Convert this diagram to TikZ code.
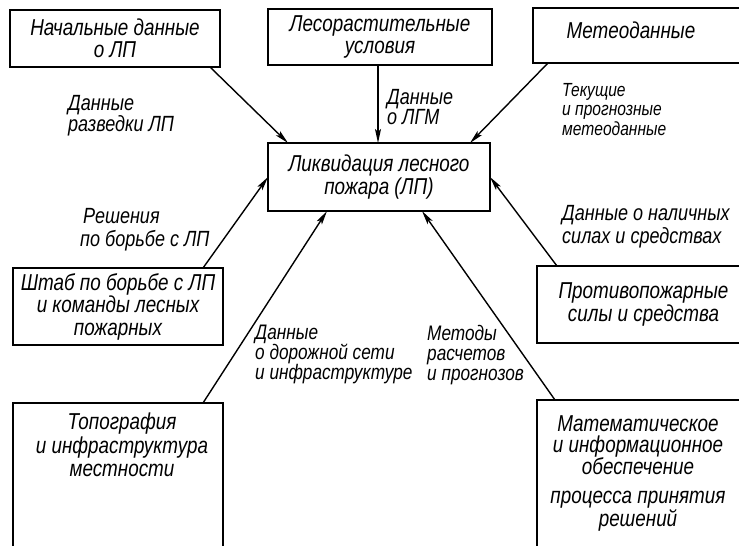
\documentclass[tikz,border=0pt]{standalone}
\usepackage{fontspec}
\newfontfamily\gostfont{Liberation Sans}[FakeStretch=0.82]
\usetikzlibrary{arrows.meta,positioning}

\tikzset{
  box/.style={draw, line width=1.5pt, inner sep=0pt, outer sep=0pt, align=center,
    font=\gostfont\itshape\fontsize{23}{22.5}\selectfont},
  boxtext/.style={inner sep=0pt, align=center, font=\gostfont\itshape\fontsize{23}{22.5}\selectfont},
  lbl/.style={inner sep=0pt, anchor=north west, align=left,
    font=\gostfont\itshape\fontsize{22}{18}\selectfont},
  flow/.style={line width=1.4pt, -{Stealth[length=14pt,width=6pt,inset=3pt]}}
}

\begin{document}
\begin{tikzpicture}[x=1pt,y=-1pt]
        \useasboundingbox (0,0) rectangle (739,546);
        % boxes
        \node[box, minimum width=210pt, minimum height=57pt] (init) at (115,38.5) {Начальные данные\\о ЛП};
        \node[box, minimum width=224pt, minimum height=56pt] (forest) at (380,37) {Лесорастительные\\условия};
        \node[box, minimum width=217pt, minimum height=55pt] (meteo) at (641.5,35.5) {};
        \node[boxtext, anchor=north] (meteotxt) at (631,22) {Метеоданные};
        \node[box, minimum width=222pt, minimum height=68pt] (fire) at (379,177) {Ликвидация лесного\\пожара (ЛП)};
        \node[box, minimum width=210pt, minimum height=77pt] (staff) at (118,306.5) {Штаб по борьбе с ЛП\\и команды лесных\\пожарных};
        \node[box, minimum width=213pt, minimum height=77pt] (forces) at (643.5,304.5) {Противопожарные\\силы и средства};
        \node[box, minimum width=210pt, minimum height=157pt] (topo) at (118,481.5) {};
        \node[boxtext, anchor=north, font=\gostfont\itshape\fontsize{23}{23.5}\selectfont] (topotxt) at (122,413) {Топография\\и инфраструктура\\местности};
        \node[box, minimum width=213pt, minimum height=160pt] (math) at (643.5,480) {};
        \node[boxtext, anchor=north, font=\gostfont\itshape\fontsize{23}{21}\selectfont] (mathtxt) at (638,415)
          {Математическое\\и информационное\\обеспечение\\[8pt]процесса принятия\\решений};

        % connectors
        \draw[flow] ([xshift=-10pt]init.south east) -- ([xshift=20pt]fire.north west);
        \draw[flow] ([xshift=-2pt]forest.south) -- ([xshift=-1pt]fire.north);
        \draw[flow] ([xshift=15pt]meteo.south west) -- ([xshift=-20pt]fire.north east);
        \draw[flow] ([xshift=-20pt]staff.north east) -- (fire.west);
        \draw[flow] ([xshift=20pt]forces.north west) -- (fire.east);
        \draw[flow] ([xshift=-20pt]topo.north east) -- ([xshift=59pt]fire.south west);
        \draw[flow] ([xshift=18pt]math.north west) -- ([xshift=-68pt]fire.south east);

        % labels
        \node[lbl] (lrazv) at (68,95) {Данные\\разведки ЛП};
        \node[lbl, font=\gostfont\itshape\fontsize{22}{19}\selectfont] (llgm) at (387,89) {Данные\\о ЛГМ};
        \node[lbl, font=\gostfont\itshape\fontsize{19}{19.5}\selectfont] (lmeteo) at (562,83) {Текущие\\и прогнозные\\метеоданные};
        \node[lbl, font=\gostfont\itshape\fontsize{22}{23}\selectfont] (lsol) at (80,208) {\hspace*{3pt}Решения\\по борьбе с ЛП};
        \node[lbl, font=\gostfont\itshape\fontsize{22}{23}\selectfont] (lforces) at (562,205) {Данные о наличных\\силах и средствах};
        \node[lbl, font=\gostfont\itshape\fontsize{21}{20}\selectfont] (lroads) at (255,325) {Данные\\о дорожной сети\\и инфраструктуре};
        \node[lbl, font=\gostfont\itshape\fontsize{21}{20}\selectfont] (lmeth) at (427,325) {Методы\\расчетов\\и прогнозов};
\end{tikzpicture}
\end{document}
